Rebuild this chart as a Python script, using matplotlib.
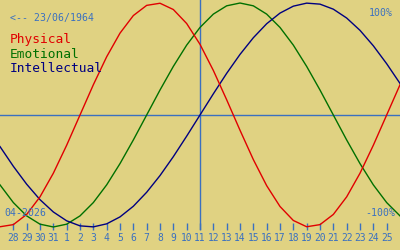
import matplotlib
matplotlib.use("Agg")
import matplotlib.pyplot as plt

# Biorhythm chart, 28 Mar - 25 Apr 2026, birth date 23/06/1964
BIRTH_LABEL = "<-- 23/06/1964"
MONTH_LABEL = "04-2026"

# day slots, one per day; slot -1 and 29 are the partial days at the edges
days = list(range(-1, 30))
day_labels = ["28", "29", "30", "31"] + [str(d) for d in range(1, 26)]
today = 14  # 11 April

physical = [-0.998, -0.979, -0.888, -0.731, -0.520, -0.270, 0.0, 0.270, 0.520,
            0.731, 0.888, 0.979, 0.998, 0.942, 0.817, 0.631, 0.398, 0.136,
            -0.136, -0.398, -0.631, -0.817, -0.942, -0.998, -0.979, -0.888,
            -0.731, -0.520, -0.270, 0.0, 0.270]
emotional = [-0.624, -0.782, -0.901, -0.975, -1.0, -0.975, -0.901, -0.782,
             -0.624, -0.434, -0.223, 0.0, 0.223, 0.434, 0.624, 0.782, 0.901,
             0.975, 1.0, 0.975, 0.901, 0.782, 0.624, 0.434, 0.223, 0.0,
             -0.223, -0.434, -0.624, -0.782, -0.901]
intellectual = [-0.282, -0.458, -0.618, -0.756, -0.866, -0.945, -0.990, -0.999,
                -0.972, -0.910, -0.815, -0.690, -0.541, -0.372, -0.189, 0.0,
                0.189, 0.372, 0.541, 0.690, 0.815, 0.910, 0.972, 0.999, 0.990,
                0.945, 0.866, 0.756, 0.618, 0.458, 0.282]

BG = "#e0d282"
ACCENT = "#3a70c0"
RED = "#e00000"
GREEN = "#007000"
NAVY = "#000080"
MONO = "DejaVu Sans Mono"

W, H = 400, 250
fig = plt.figure(figsize=(4, 2.5), dpi=100, facecolor=BG)
# axes covers the whole width, bottom edge at the tick row (230 px from top)
ax = fig.add_axes([0, 20 / H, 1, 230 / H])
ax.set_facecolor(BG)
for s in ax.spines.values():
    s.set_visible(False)

ax.axhline(0, color=ACCENT, lw=1.0, zorder=1)
ax.axvline(today, color=ACCENT, lw=1.0, zorder=1)

ax.plot(days, physical, color=RED, lw=1.0, zorder=3)
ax.plot(days, emotional, color=GREEN, lw=1.0, zorder=2)
ax.plot(days, intellectual, color=NAVY, lw=1.0, zorder=2)

ax.set_xlim(-1, 29)
ax.set_ylim(-1.027, 1.027)
ax.set_yticks([])
ax.set_xticks(range(len(day_labels)))
ax.set_xticklabels(day_labels, fontsize=6.9, family=MONO, color=ACCENT)
ax.tick_params(axis="x", direction="in", length=5, width=1.0, color=ACCENT,
               pad=2.3)

# header texts (pixel positions turned into figure fractions)
def ftext(x, y, s, size, color):
    fig.text(x / W, 1 - y / H, s, fontsize=size, family=MONO, color=color,
             ha="left", va="baseline")

ftext(10, 20.7, BIRTH_LABEL, 7.1, ACCENT)
ftext(10, 42.7, "Physical", 9.3, RED)
ftext(10, 57.5, "Emotional", 9.3, GREEN)
ftext(10, 72.5, "Intellectual", 9.3, NAVY)
ftext(369, 16, "100%", 7.1, ACCENT)
ftext(365, 215.7, "-100%", 7.1, ACCENT)
ftext(4.7, 216, MONTH_LABEL, 7.1, ACCENT)

fig.savefig("out.png", dpi=100, facecolor=BG)
